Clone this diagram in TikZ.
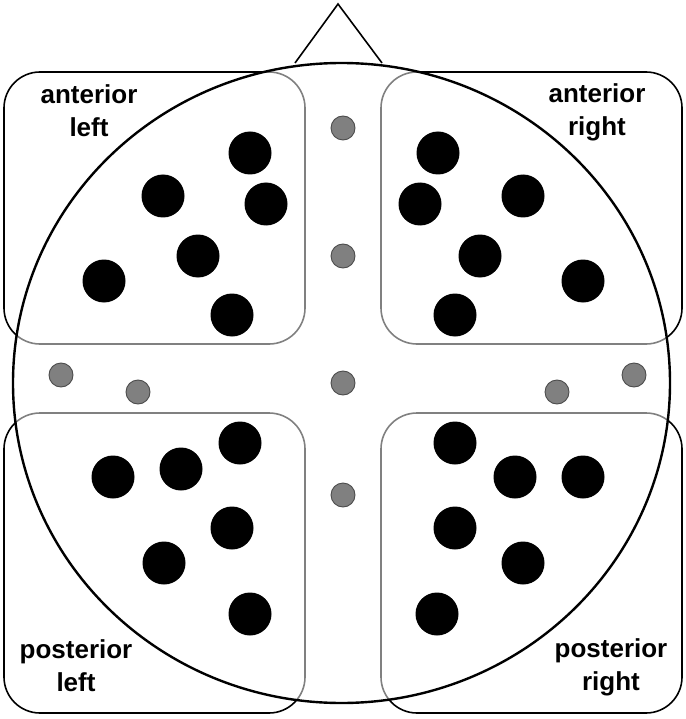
\documentclass[tikz,border=0pt]{standalone}
\usepackage{fontspec}
\setmainfont{Liberation Sans}
\tikzset{
	region/.style={draw=black, line width=1.6pt, rounded corners=36pt},
	sensor/.style={circle, fill=black, inner sep=0pt, minimum size=43pt},
	midsensor/.style={circle, draw=black!70, line width=0.9pt, fill=black!50, inner sep=0pt, minimum size=24pt},
	areaname/.style={align=center, inner sep=0pt, anchor=base, font=\bfseries\fontsize{26}{33}\selectfont}
}
\begin{document}
\begin{tikzpicture}[x=1pt, y=-1pt]
    \useasboundingbox (0,0) rectangle (685,719);
    % the four regions
    \draw [region] (4,72) rectangle (305,344);
    \draw [region] (381,72) rectangle (682,344);
    \draw [region] (4,413) rectangle (305,713);
    \draw [region] (381,413) rectangle (682,713);
    % head with nose
    \fill [white, opacity=0.5] (341.5,383) ellipse [x radius=328.5pt, y radius=320pt];
    \draw [line width=2.4pt] (341.5,383) ellipse [x radius=328.5pt, y radius=320pt];
    \draw [line width=1.6pt] (295,63) -- (338,4) -- (382,63);
    % electrodes
    \foreach \x/\y [count=\i] in {250/153, 163/196, 266/204, 198/256, 104/281, 232/315}
        \node (al\i) [sensor] at (\x,\y) {};
    \foreach \x/\y [count=\i] in {438/153, 420/204, 523/196, 480/256, 583/281, 455/315}
        \node (ar\i) [sensor] at (\x,\y) {};
    \foreach \x/\y [count=\i] in {240/443, 181/469, 113/477, 232/528, 164/563, 250/614}
        \node (pl\i) [sensor] at (\x,\y) {};
    \foreach \x/\y [count=\i] in {455/443, 515/477, 583/477, 455/528, 523/563, 437/614}
        \node (pr\i) [sensor] at (\x,\y) {};
    \foreach \x/\y [count=\i] in {343/128, 343/256, 61/375, 138/392, 343/383, 557/392, 634/375, 343/495}
        \node (mid\i) [midsensor] at (\x,\y) {};
    % labels
    \node (antleft) [areaname] at (89,137) {anterior\\left};
    \node (antright) [areaname] at (597,136) {anterior\\right};
    \node (postleft) [areaname] at (76,691) {posterior\\left};
    \node (postright) [areaname] at (611,690) {posterior\\right};
\end{tikzpicture}
\end{document}
